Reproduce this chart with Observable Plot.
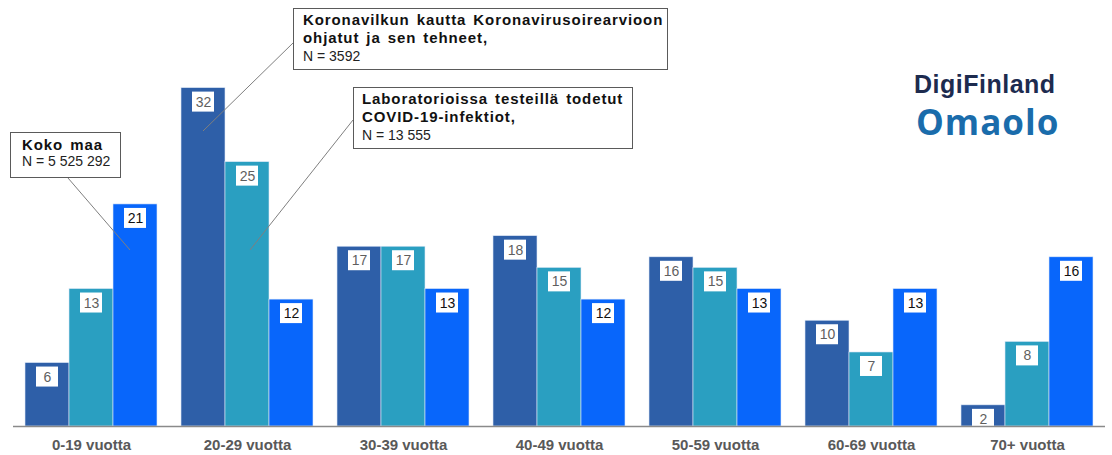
<!DOCTYPE html>
<html>
<head>
<meta charset="utf-8">
<script src="https://cdn.jsdelivr.net/npm/d3@7"></script>
<script src="https://cdn.jsdelivr.net/npm/@observablehq/plot@0.6"></script>
<style>
  html, body { margin: 0; padding: 0; background: #fff; }
  #wrap { position: relative; width: 1112px; height: 455px; overflow: hidden; font-family: "Liberation Sans", Arial, sans-serif; }
  #chart svg { display: block; }
  [aria-label^="fx-axis"] text { font-weight: bold; fill: #595959; }
  .note { position: absolute; box-sizing: border-box; border: 1.5px solid #5a5a5a; background: #fff; color: #111; font-size: 14px; line-height: 18px; }
  .note b { font-weight: bold; font-size: 15px; letter-spacing: 0.9px; word-spacing: 2px; display: block; }
  .note span { display: block; color: #222; }
  #links { position: absolute; left: 0; top: 0; pointer-events: none; }
  .logo1 { position: absolute; left: 914px; top: 72px; font: bold 25px "Liberation Sans", Arial, sans-serif; line-height: 1; color: #1d2b4f; letter-spacing: 0.5px; }
  .logo2 { position: absolute; left: 916px; top: 104px; font: 700 35px "Open Sans", sans-serif; line-height: 1; color: #1a6cab; letter-spacing: 1px; }
</style>
</head>
<body>
<div id="wrap">
  <div id="chart"></div>
  <svg id="links" width="1112" height="455">
    <line x1="68" y1="178" x2="130" y2="250" stroke="#7f7f7f" stroke-width="1"/>
    <line x1="293" y1="43" x2="203" y2="131" stroke="#7f7f7f" stroke-width="1"/>
    <line x1="353" y1="120" x2="250" y2="250" stroke="#7f7f7f" stroke-width="1"/>
  </svg>
  <div class="note" style="left:10px;top:132px;width:111px;height:46px;padding:3px 0 0 11px;line-height:17px;">
    <b>Koko maa</b><span>N = 5 525 292</span>
  </div>
  <div class="note" style="left:293px;top:8px;width:375px;height:62px;padding:2px 0 0 9px;">
    <b>Koronavilkun kautta Koronavirusoirearvioon</b><b>ohjatut ja sen tehneet,</b><span>N = 3592</span>
  </div>
  <div class="note" style="left:353px;top:87px;width:280px;height:62px;padding:2px 0 0 8px;">
    <b>Laboratorioissa testeillä todetut</b><b>COVID-19-infektiot,</b><span>N = 13 555</span>
  </div>
  <div class="logo1">DigiFinland</div>
  <div class="logo2">Omaolo</div>
</div>
<script>
const groups = ["0-19 vuotta", "20-29 vuotta", "30-39 vuotta", "40-49 vuotta", "50-59 vuotta", "60-69 vuotta", "70+ vuotta"];
const seriesNames = ["Koronavilkku", "Laboratorio", "Koko maa"];
const koronavilkku = [6, 32, 17, 18, 16, 10, 2];
const laboratorio = [13, 25, 17, 15, 15, 7, 8];
const kokoMaa = [21, 12, 13, 12, 13, 13, 16];
const seriesColors = ["#2e5fa8", "#2a9fc1", "#0866fb"];

const seriesValues = [koronavilkku, laboratorio, kokoMaa];
const data = [];
groups.forEach((g, i) => {
  seriesNames.forEach((s, j) => {
    data.push({group: g, series: s, value: seriesValues[j][i]});
  });
});

const chart = Plot.plot({
  width: 1112,
  height: 455,
  marginLeft: 10,
  marginRight: 4,
  marginTop: 3,
  marginBottom: 29,
  style: {fontFamily: "'Liberation Sans', Arial, sans-serif", fontSize: "15px", background: "transparent"},
  fx: {domain: groups, padding: 0, label: null, axis: "bottom", tickSize: 0, tickPadding: 13},
  x: {domain: seriesNames, axis: null, paddingInner: 0, paddingOuter: 0.24},
  y: {domain: [0, 40], axis: null},
  color: {domain: seriesNames, range: seriesColors},
  marks: [
    Plot.barY(data, {fx: "group", x: "series", y: "value", fill: "series", stroke: "#dfe9f7", strokeWidth: 0.6}),
    Plot.barY(data, {fx: "group", x: "series", y1: "value", y2: "value", fill: "white",
      insetLeft: 11, insetRight: 11, insetTop: 4, insetBottom: -24}),
    Plot.text(data, {fx: "group", x: "series", y: "value", text: d => String(d.value), dy: 14,
      fontSize: 14, fill: d => d.series === "Koko maa" ? "#111111" : "#5f5f5f"}),
    Plot.ruleY([0], {stroke: "#8a8a8a", strokeWidth: 1.5})
  ]
});
document.getElementById("chart").appendChild(chart);
</script>
</body>
</html>
